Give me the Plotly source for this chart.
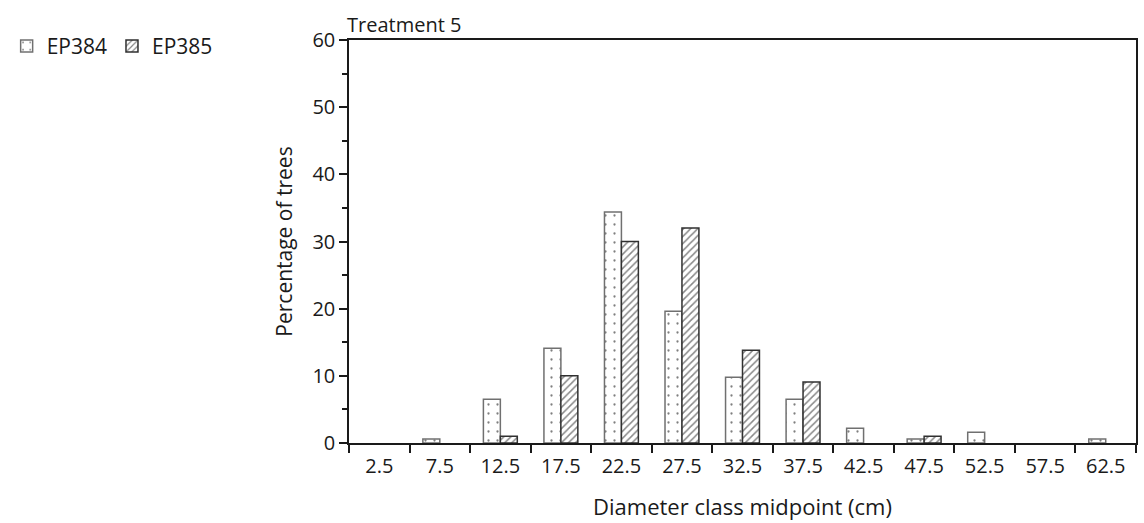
import plotly.graph_objects as go

# Diameter classes (cm midpoints) and percentage of trees per class
classes = ["2.5", "7.5", "12.5", "17.5", "22.5", "27.5", "32.5",
           "37.5", "42.5", "47.5", "52.5", "57.5", "62.5"]
ep384 = [0, 0.6, 6.5, 14.1, 34.4, 19.6, 9.8, 6.5, 2.2, 0.6, 1.6, 0, 0.6]
ep385 = [0, 0, 1.0, 10.0, 30.0, 32.0, 13.8, 9.1, 0, 1.0, 0, 0, 0]

FONT = "Open Sans"
INK = "#1a1a1a"


def nonzero(vals):
    # empty classes get no bar outline at the baseline
    return [v if v else None for v in vals]


fig = go.Figure()
fig.add_trace(go.Bar(
    x=classes, y=nonzero(ep384), name="EP384",
    marker=dict(color="white",
                line=dict(color="#707070", width=1.5),
                pattern=dict(shape=".", fgcolor="black", bgcolor="white",
                             size=9, solidity=0.05)),
))
fig.add_trace(go.Bar(
    x=classes, y=nonzero(ep385), name="EP385",
    marker=dict(color="white",
                line=dict(color="#303030", width=1.5),
                pattern=dict(shape="/", fgcolor="#111111", bgcolor="white",
                             size=5, solidity=0.3)),
))

fig.update_layout(
    width=1144, height=523,
    margin=dict(l=343, r=6, t=40, b=80),
    paper_bgcolor="white", plot_bgcolor="white",
    font=dict(family=FONT, size=20, color=INK),
    barmode="group", bargap=0.44, bargroupgap=0,
    showlegend=True,
    legend=dict(orientation="h", x=-0.435, xanchor="left", y=1.035, yanchor="top",
                font=dict(size=21), itemwidth=30, tracegroupgap=0,
                bgcolor="rgba(0,0,0,0)"),
    xaxis=dict(
        type="category", tickson="boundaries",
        ticks="outside", ticklen=8, tickcolor=INK, tickwidth=1.5,
        showline=True, linecolor=INK, linewidth=1.5, mirror=True,
        showgrid=False, zeroline=False,
        title=dict(text="Diameter class midpoint (cm)", font=dict(size=22), standoff=22),
        tickfont=dict(size=20), ticklabelstandoff=4,
    ),
    yaxis=dict(
        range=[0, 60], dtick=10,
        ticks="outside", ticklen=8, tickcolor=INK, tickwidth=1.5,
        minor=dict(dtick=5, ticks="outside", ticklen=5, tickcolor=INK, tickwidth=1.5),
        showline=True, linecolor=INK, linewidth=1.5, mirror=True,
        showgrid=False, zeroline=False,
        title=dict(text="Percentage of trees", font=dict(size=21), standoff=14),
        tickfont=dict(size=20),
    ),
    annotations=[dict(text="Treatment 5", xref="paper", yref="paper",
                      x=0, y=1, xanchor="left", yanchor="bottom", xshift=-4, yshift=0,
                      showarrow=False, font=dict(size=20))],
)

fig.write_html("out.html")
